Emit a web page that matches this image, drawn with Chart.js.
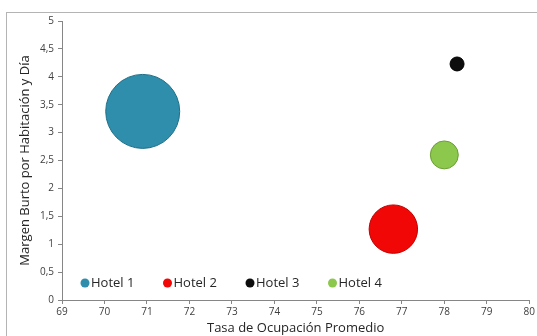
<!DOCTYPE html>
<html>
<head>
<meta charset="utf-8">
<script src="https://cdn.jsdelivr.net/npm/chart.js@4"></script>
<style>
  html, body { margin: 0; padding: 0; background: #fff; }
  #wrap { position: relative; width: 537px; height: 336px; overflow: hidden; }
  #frame { position: absolute; left: 6px; top: 12px; width: 600px; height: 400px; border: 1px solid #b4b4b4; }
  canvas { position: absolute; left: 0; top: 0; }
</style>
</head>
<body>
<div id="wrap">
  <div id="frame"></div>
  <canvas id="grafico" width="537" height="336"></canvas>
</div>
<script>
// Datos del gráfico
const hoteles = ['Hotel 1', 'Hotel 2', 'Hotel 3', 'Hotel 4'];
const ocupacion = [70.9, 76.8, 78.3, 78.0];      // eje X
const margen = [3.38, 1.27, 4.23, 2.6];          // eje Y
const tamano = [28, 12, 1, 4];                   // tamaño de burbuja
const colores = ['#2e8eab', '#f20707', '#0d0d0d', '#8cc84b'];
const bordes = ['#1f6f88', '#c00000', '#000000', '#6c9e35'];

const MAX_RADIO = 37; // px para la burbuja más grande (área proporcional)
const maxTam = Math.max(...tamano);

const datasets = hoteles.map((h, i) => ({
    label: h,
    data: [{ x: ocupacion[i], y: margen[i], r: Math.sqrt(tamano[i] / maxTam) * MAX_RADIO }],
    backgroundColor: colores[i],
    borderColor: bordes[i],
    borderWidth: 1
}));

// Leyenda dibujada dentro del área del gráfico, abajo a la izquierda
const leyendaInterna = {
    id: 'leyendaInterna',
    afterDraw(chart) {
        const ctx = chart.ctx;
        const area = chart.chartArea;
        const y = area.bottom - 17;
        let x = area.left + 23;
        ctx.save();
        ctx.font = '13px "Open Sans", sans-serif';
        ctx.textBaseline = 'middle';
        chart.data.datasets.forEach(ds => {
            ctx.beginPath();
            ctx.arc(x, y, 4.5, 0, Math.PI * 2);
            ctx.fillStyle = ds.backgroundColor;
            ctx.fill();
            ctx.fillStyle = '#262626';
            ctx.fillText(ds.label, x + 6, y);
            x += 82.5;
        });
        ctx.restore();
    }
};

const fuente = '"Open Sans", sans-serif';

new Chart(document.getElementById('grafico'), {
    type: 'bubble',
    data: { datasets },
    options: {
        responsive: false,
        animation: false,
        events: [],
        layout: { autoPadding: false, padding: { top: 21, right: 5, left: 17, bottom: 0 } },
        plugins: {
            legend: { display: false },
            tooltip: { enabled: false }
        },
        scales: {
            x: {
                type: 'linear',
                min: 69,
                max: 80,
                ticks: { stepSize: 1, color: '#404040', font: { size: 10, family: fuente }, padding: 2, maxRotation: 0 },
                grid: { drawOnChartArea: false, tickLength: 4, color: '#868686' },
                border: { color: '#868686' },
                title: { display: true, text: 'Tasa de Ocupación Promedio', color: '#262626', font: { size: 13, family: fuente }, padding: 0 },
                afterFit: s => { s.height = 36; }
            },
            y: {
                min: 0,
                max: 5,
                ticks: {
                    stepSize: 0.5,
                    color: '#404040',
                    font: { size: 10, family: fuente },
                    padding: 4,
                    callback: v => String(v).replace('.', ',')
                },
                grid: { drawOnChartArea: false, tickLength: 4, color: '#868686' },
                border: { color: '#868686' },
                title: { display: true, text: 'Margen Burto por Habitación y Día', color: '#262626', font: { size: 13, family: fuente }, padding: 0 },
                afterFit: s => { s.width = 45; }
            }
        }
    },
    plugins: [leyendaInterna]
});
</script>
</body>
</html>
